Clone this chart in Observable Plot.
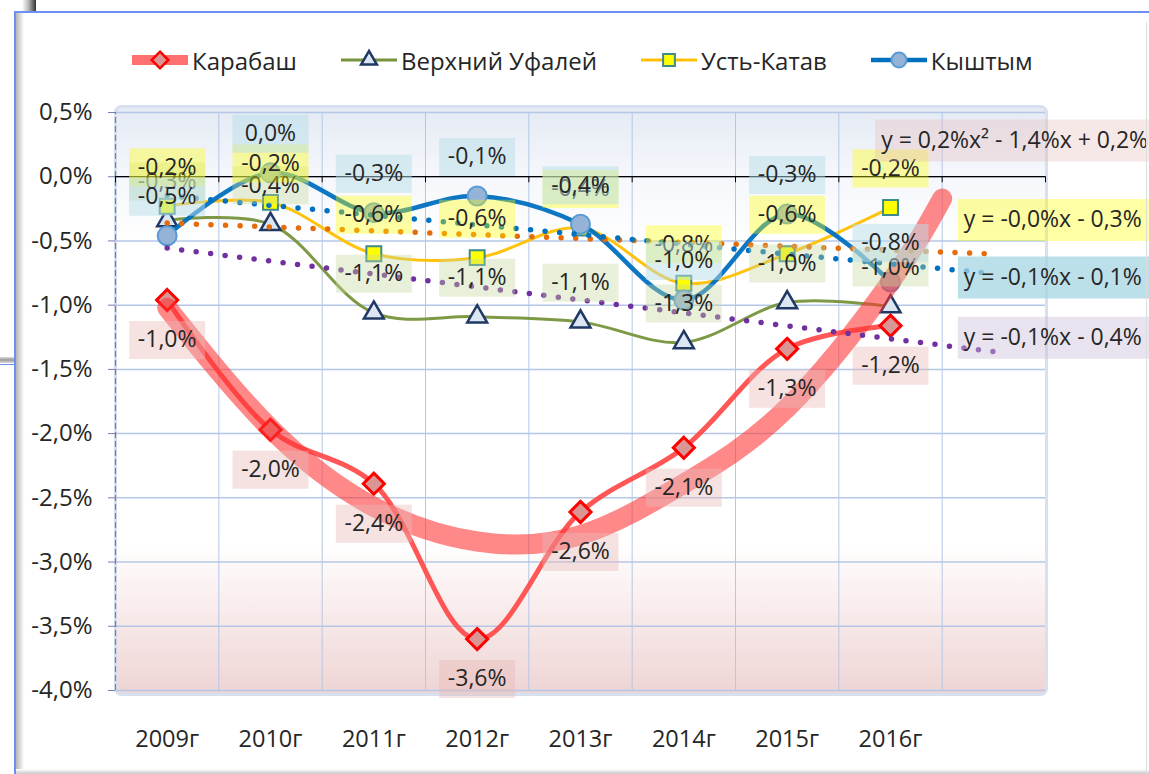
<!DOCTYPE html>
<html>
<head>
<meta charset="utf-8">
<script src="https://cdn.jsdelivr.net/npm/d3@7"></script>
<script src="https://cdn.jsdelivr.net/npm/@observablehq/plot@0.6"></script>
<style>
  html, body { margin: 0; padding: 0; background: #fff; }
  #wrap { position: relative; width: 1149px; height: 774px; overflow: hidden; background: #fff; font-family: "Open Sans", sans-serif; }
  #legend { position: absolute; left: 132px; top: 40px; height: 40px; display: flex; align-items: center; gap: 44px; font-size: 24px; color: #262626; white-space: nowrap; }
  #legend .item { display: flex; align-items: center; gap: 4px; }
  #chart { position: absolute; left: 0; top: 100px; }
  .chrome { position: absolute; pointer-events: none; }
</style>
</head>
<body>
<div id="wrap">
  <div id="legend"></div>
  <div id="chart"></div>
  <div class="chrome" style="left:22px;top:0;width:14px;height:12px;background:linear-gradient(to right,#fff,#bbb 45%,#333);"></div>
  <div class="chrome" style="left:14px;top:11px;right:0;height:2px;background:#6d8ff2;"></div>
  <div class="chrome" style="left:14px;top:11px;width:2px;bottom:0;background:#6d8ff2;"></div>
  <div class="chrome" style="left:16px;top:13px;width:8px;bottom:0;background:linear-gradient(to right,rgba(120,120,120,0.55),rgba(255,255,255,0));"></div>
  <div class="chrome" style="left:0;top:357px;width:14px;height:6px;background:linear-gradient(to bottom,#ddd,#999,#ddd);"></div>
  <div class="chrome" style="left:0;top:364px;width:14px;height:1px;background:#6d8ff2;"></div>
  <div class="chrome" style="left:16px;top:769px;right:0;height:5px;background:linear-gradient(to bottom,#fff,#c8c8c8);"></div>
  <div class="chrome" style="left:1146px;top:22px;width:1px;bottom:0;background:#ddd;"></div>
</div>
<script>
// ---------- data ----------
const years = ["2009г", "2010г", "2011г", "2012г", "2013г", "2014г", "2015г", "2016г"];
const seriesNames = ["Карабаш", "Верхний Уфалей", "Усть-Катав", "Кыштым"];
const karabash       = [-0.96, -1.97, -2.39, -3.60, -2.61, -2.11, -1.34, -1.16];
const verkhniyUfaley = [-0.34, -0.37, -1.06, -1.09, -1.13, -1.29, -0.98, -1.01];
const ustKatav       = [-0.23, -0.20, -0.60, -0.63, -0.40, -0.83, -0.60, -0.24];
const kyshtym        = [-0.46,  0.03, -0.28, -0.15, -0.37, -0.96, -0.29, -0.82];
// polynomial trend of Карабаш
const karabashTrendX = [1, 2, 3, 4, 5, 6, 7, 8, 8.5];
const karabashTrendY = [-1.02, -1.96, -2.57, -2.84, -2.79, -2.39, -1.80, -0.82, -0.17];
const equationKarabash = "y = 0,2%x² - 1,4%x + 0,2%";
const equationUstKatav = "y = -0,0%x - 0,3%";
const equationKyshtym  = "y = -0,1%x - 0,1%";
const equationUfaley   = "y = -0,1%x - 0,4%";
const yTicks = d3.range(-4, 0.51, 0.5);

// ---------- helpers ----------
const fmt = v => v.toFixed(1).replace(".", ",") + "%";
const nBands = years.length + 1;              // one empty band for trend forecast
const xs = years.map((_, i) => i + 1);
const bounds = d3.range(0.5, nBands + 1, 1);
const rowsOf = values => values.map((v, i) => ({x: i + 1, y: v, label: fmt(v)}));
function linreg(values) {
  const px = values.map((_, i) => i + 1);
  const mx = d3.mean(px), my = d3.mean(values);
  const b = d3.sum(px, (x, i) => (x - mx) * (values[i] - my)) / d3.sum(px, x => (x - mx) ** 2);
  const a = my - b * mx;
  return [{x: 1, y: a + b}, {x: nBands, y: a + b * nBands}];
}
const box = (x0, y0, w, h) => ({draw(ctx) { ctx.rect(x0, y0, w, h); }});
const labelBox = box(-38, -19, 76, 38);
const eqBox = box(-6, -21, 300, 42);

const cfg = [
  {name: seriesNames[0], values: karabash, line: "#ff4d4d", lw: 5, symbol: "diamond2", mFill: "#d99694", mStroke: "#ff0000", msw: 3, r: 9.5, bg: "#e6b9b8", bgOp: 0.42, dy: 40},
  {name: seriesNames[1], values: verkhniyUfaley, line: "#77933c", lw: 3, symbol: "triangle2", mFill: "#dce6f2", mStroke: "#1f3864", msw: 2.5, r: 9.5, bg: "#c4d79b", bgOp: 0.38, dy: -39},
  {name: seriesNames[2], values: ustKatav, line: "#ffc000", lw: 3, symbol: "square2", mFill: "#ffff00", mStroke: "#3f8a8c", msw: 2, r: 9.5, bg: "#ffff00", bgOp: 0.36, dy: -39},
  {name: seriesNames[3], values: kyshtym, line: "#0070c0", lw: 4.5, symbol: "circle", mFill: "#95b3d7", mStroke: "#5b9bd5", msw: 2, r: 9.5, bg: "#b7dee8", bgOp: 0.5, dy: -39}
];

const karabashTrend = karabashTrendX.map((x, i) => ({x, y: karabashTrendY[i]}));
const linTrends = [
  {pts: linreg(ustKatav), color: "#e46c0a", eq: equationUstKatav, bg: "#ffff00", bgOp: 0.36, dx: -30, dy: -34},
  {pts: linreg(kyshtym), color: "#0070c0", eq: equationKyshtym, bg: "#a6d5e3", bgOp: 0.75, dx: -30, dy: 4},
  {pts: linreg(verkhniyUfaley), color: "#7030a0", eq: equationUfaley, bg: "#ccc0da", bgOp: 0.45, dx: -30, dy: -14}
];

// ---------- marks ----------
const marks = [
  Plot.frame({fill: "url(#plotBg)", stroke: "#d6e0ee", strokeWidth: 3, rx: 6, insetTop: -6, insetBottom: -4, insetRight: -1}),
  Plot.gridY(yTicks, {stroke: "#b4c7e7", strokeOpacity: 1, strokeWidth: 1.5}),
  Plot.gridX(bounds.slice(1, -1), {stroke: "#b4c7e7", strokeOpacity: 1, strokeWidth: 1}),
  Plot.ruleX([0.5], {y1: -4, y2: 0.5, stroke: "#7b7bb0", strokeWidth: 1.2, strokeDasharray: "6,3"}),
  Plot.ruleY(yTicks, {x1: 0.5, x2: 0.5, insetLeft: -7, stroke: "#7b7bb0"}),
  Plot.axisY({ticks: yTicks, tickFormat: fmt, tickSize: 0, tickPadding: 23, fontSize: 24, fill: "#262626", label: null}),
  Plot.ruleY([0], {stroke: "#000", strokeWidth: 1.2}),
  Plot.ruleX(bounds, {y1: 0, y2: 0, insetBottom: -6, stroke: "#000"}),
  Plot.axisX({ticks: xs, tickFormat: i => years[i - 1], tickSize: 0, tickPadding: 40, fontSize: 23.5, fill: "#262626", label: null})
];
for (const c of cfg) {
  const rows = rowsOf(c.values);
  marks.push(Plot.line(rows, {x: "x", y: "y", curve: "catmull-rom", stroke: c.line, strokeWidth: c.lw, strokeOpacity: 0.95}));
  marks.push(Plot.dot(rows, {x: "x", y: "y", symbol: c.symbol, r: c.r, fill: c.mFill, stroke: c.mStroke, strokeWidth: c.msw}));
}
marks.push(Plot.line(karabashTrend, {x: "x", y: "y", curve: "natural", stroke: "#ff3333", strokeOpacity: 0.58, strokeWidth: 20, strokeLinecap: "round"}));
for (const t of linTrends) {
  marks.push(Plot.line(t.pts, {x: "x", y: "y", stroke: t.color, strokeWidth: 5.5, strokeDasharray: "0 14.6", strokeLinecap: "round"}));
}
for (const c of cfg) {
  const rows = rowsOf(c.values);
  marks.push(Plot.dot(rows, {x: "x", y: "y", symbol: labelBox, fill: c.bg, fillOpacity: c.bgOp, dy: c.dy}));
  marks.push(Plot.text(rows, {x: "x", y: "y", text: "label", dy: c.dy, fontSize: 23, fill: "#262626"}));
}
const kEnd = karabashTrend[karabashTrend.length - 1];
marks.push(Plot.dot([kEnd], {x: "x", y: "y", symbol: eqBox, fill: "#e6b9b8", fillOpacity: 0.33, dx: -61, dy: -58}));
marks.push(Plot.text([kEnd], {x: "x", y: "y", text: () => equationKarabash, textAnchor: "start", dx: -61, dy: -58, fontSize: 23, fill: "#262626"}));
for (const t of linTrends) {
  const end = t.pts[1];
  marks.push(Plot.dot([end], {x: "x", y: "y", symbol: eqBox, fill: t.bg, fillOpacity: t.bgOp, dx: t.dx, dy: t.dy}));
  marks.push(Plot.text([end], {x: "x", y: "y", text: () => t.eq, textAnchor: "start", dx: t.dx, dy: t.dy, fontSize: 23, fill: "#262626"}));
}

const svg = Plot.plot({
  width: 1149, height: 674,
  marginLeft: 115, marginRight: 104, marginTop: 12, marginBottom: 84,
  x: {domain: [0.5, nBands + 0.5], axis: null, label: null},
  y: {domain: [-4, 0.5], axis: null, label: null},
  style: {background: "transparent", fontFamily: "'Open Sans', sans-serif", fontSize: "22px", color: "#262626", overflow: "visible"},
  marks
});
const defs = document.createElementNS("http://www.w3.org/2000/svg", "defs");
defs.innerHTML = `<linearGradient id="plotBg" x1="0" y1="0" x2="0" y2="1">
  <stop offset="0" stop-color="#e4eaf4"/>
  <stop offset="0.12" stop-color="#f5f7fb"/>
  <stop offset="0.24" stop-color="#ffffff"/>
  <stop offset="0.74" stop-color="#ffffff"/>
  <stop offset="0.87" stop-color="#f8e9e9"/>
  <stop offset="1" stop-color="#eed4d4"/>
</linearGradient>`;
svg.insertBefore(defs, svg.firstChild);
document.getElementById("chart").appendChild(svg);

// ---------- legend ----------
const legend = document.getElementById("legend");
const symMap = {diamond2: d3.symbolDiamond2, triangle2: d3.symbolTriangle2, square2: d3.symbolSquare2, circle: d3.symbolCircle};
cfg.forEach((c, i) => {
  const item = document.createElement("div");
  item.className = "item";
  const lineW = i === 0 ? 10 : c.lw;
  const lineC = i === 0 ? "#ff7070" : c.line;
  const path = d3.symbol(symMap[c.symbol], Math.PI * 7.5 * 7.5)();
  item.innerHTML = `<svg width="56" height="28"><line x1="0" x2="56" y1="14" y2="14" stroke="${lineC}" stroke-width="${lineW}"/>` +
    `<path d="${path}" transform="translate(28,14)" fill="${c.mFill}" stroke="${c.mStroke}" stroke-width="${Math.min(c.msw, 2.5)}"/></svg>` +
    `<span>${c.name}</span>`;
  legend.appendChild(item);
});
</script>
</body>
</html>
